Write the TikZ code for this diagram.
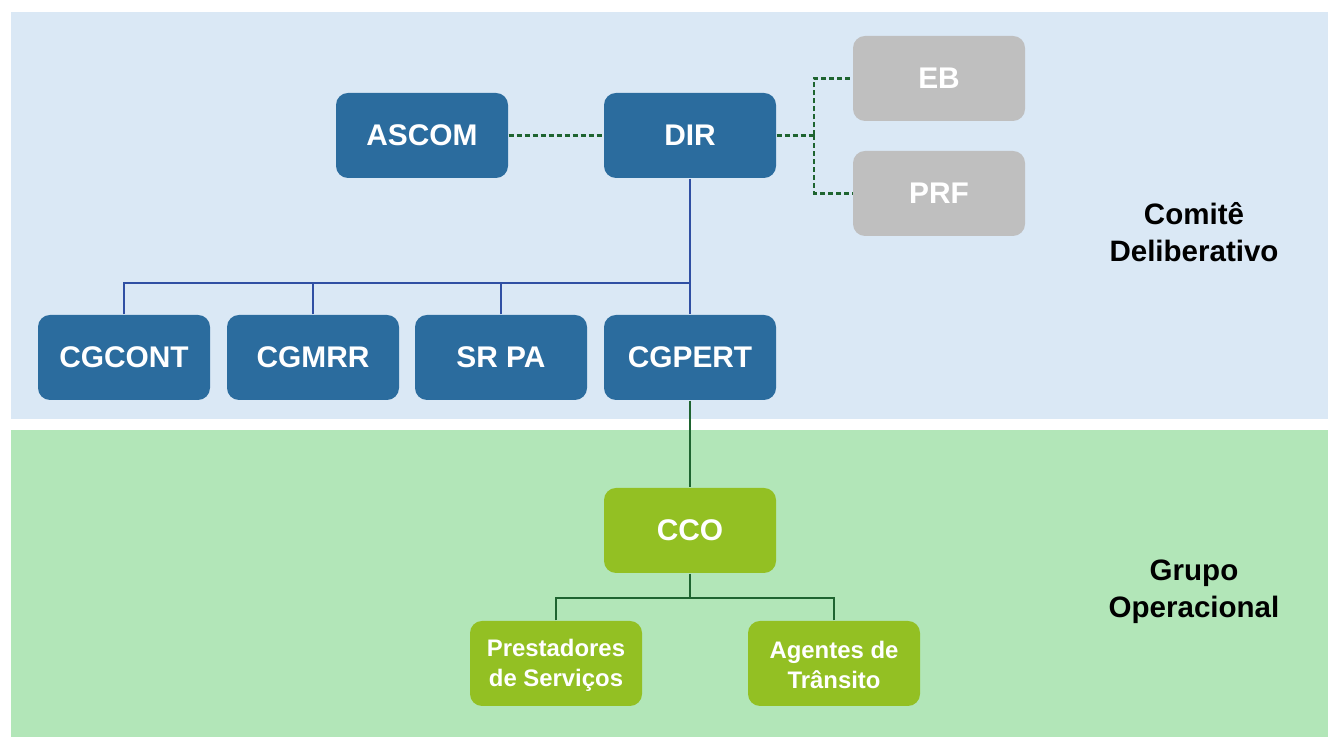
\documentclass[tikz,border=0pt]{standalone}
\usepackage{fontspec}
\setmainfont{Liberation Sans}
\definecolor{bandblue}{HTML}{DAE8F5}
\definecolor{bandgreen}{HTML}{B2E6B8}
\definecolor{boxblue}{HTML}{2B6C9E}
\definecolor{boxgray}{HTML}{BFBFBF}
\definecolor{boxgreen}{HTML}{93C023}
\definecolor{busblue}{HTML}{2F4FA3}
\definecolor{linkgreen}{HTML}{1E6430}
\begin{document}
\begin{tikzpicture}[
  box/.style={rounded corners=0.12cm, minimum width=1.72cm, minimum height=0.85cm, inner sep=0pt, text=white, font=\fontsize{8.5}{10}\selectfont\bfseries, align=center},
  bluebox/.style={box, fill=boxblue},
  graybox/.style={box, fill=boxgray},
  greenbox/.style={box, fill=boxgreen},
  smallbox/.style={greenbox, font=\fontsize{6.8}{8.4}\selectfont\bfseries},
  bus/.style={busblue, line width=0.5pt},
  dashlink/.style={linkgreen, line width=0.6pt, dash pattern=on 0.05cm off 0.03cm},
  glink/.style={linkgreen, line width=0.5pt},
  grouplabel/.style={align=center, font=\fontsize{8.4}{10.5}\selectfont\bfseries}
]
\useasboundingbox (0,0) rectangle (13.28,7.37);
% bands
\fill[bandblue](0.11,3.18) rectangle (13.28,7.25);
\fill[bandgreen](0.11,0) rectangle (13.28,3.07);
\node[grouplabel] (comite) at (11.94,5.045) {Comitê\\Deliberativo};
\node[grouplabel] (grupo) at (11.94,1.45) {Grupo\\Operacional};
% comite
\node[bluebox] (ascom) at (4.22,6.015) {ASCOM};
\node[bluebox] (dir) at (6.90,6.015) {DIR};
\node[graybox] (eb) at (9.39,6.585) {EB};
\node[graybox] (prf) at (9.39,5.435) {PRF};
\node[bluebox] (cgcont) at (1.24,3.795) {CGCONT};
\node[bluebox] (cgmrr) at (3.13,3.795) {CGMRR};
\node[bluebox] (srpa) at (5.01,3.795) {SR PA};
\node[bluebox] (cgpert) at (6.90,3.795) {CGPERT};
\coordinate (bus) at (6.90,4.54);
\coordinate (split) at (8.14,6.015);
\draw[dashlink](ascom.east)--(dir.west);
\draw[dashlink](dir.east)--(split);
\draw[dashlink](split)|-(eb.west);
\draw[dashlink](split)|-(prf.west);
\draw[bus](dir.south)--(cgpert.north);
\draw[bus](cgcont.north)|-(bus);
\draw[bus](cgmrr.north)|-(bus);
\draw[bus](srpa.north)|-(bus);
% grupo
\node[greenbox] (cco) at (6.90,2.065) {CCO};
\node[smallbox] (prest) at (5.56,0.735) {\strut Prestadores\\de Serviços};
\node[smallbox] (agentes) at (8.34,0.735) {\strut Agentes de\\Trânsito};
\coordinate (ccobus) at (6.90,1.39);
\draw[glink](cgpert.south)--(cco.north);
\draw[glink](cco.south)--(ccobus);
\draw[glink](prest.north)|-(ccobus);
\draw[glink](agentes.north)|-(ccobus);
\end{tikzpicture}
\end{document}
